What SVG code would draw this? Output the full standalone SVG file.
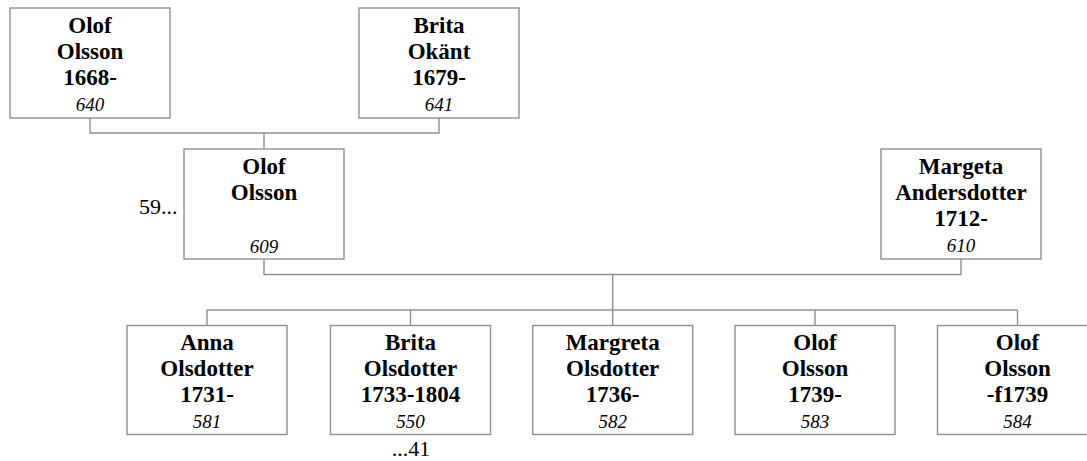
<svg xmlns="http://www.w3.org/2000/svg" width="1087" height="461" viewBox="0 0 1087 461">
<style>
.box{fill:#fff;stroke:#8f8f8f;stroke-width:1.4}
.ln{fill:none;stroke:#8f8f8f;stroke-width:1.4}
.b{font-weight:bold;font-size:23px;text-anchor:middle}
.i{font-style:italic;font-size:19px;text-anchor:middle}
.n{font-size:22px}
</style>
<rect width="1087" height="461" fill="#fff"/>
<g id="connectors">
<polyline class="ln" points="90,118 90,133 439,133 439,118"/>
<line class="ln" x1="264" y1="133" x2="264" y2="149"/>
<polyline class="ln" points="264,259 264,274.5 961,274.5 961,259"/>
<line class="ln" x1="612.7" y1="274.5" x2="612.7" y2="310"/>
<line class="ln" x1="207" y1="310" x2="1017.5" y2="310"/>
<line class="ln" x1="207" y1="310" x2="207" y2="325.5"/>
<line class="ln" x1="410.5" y1="310" x2="410.5" y2="325.5"/>
<line class="ln" x1="612.7" y1="310" x2="612.7" y2="325.5"/>
<line class="ln" x1="815" y1="310" x2="815" y2="325.5"/>
<line class="ln" x1="1017.5" y1="310" x2="1017.5" y2="325.5"/>
</g>
<g font-family="'Liberation Serif', Tinos, 'Times New Roman', serif" fill="#000">
<g id="n640">
<rect class="box" x="10" y="8" width="160" height="110"/>
<text class="b" x="90" y="32.7">Olof</text>
<text class="b" x="90" y="59">Olsson</text>
<text class="b" x="90" y="85">1668-</text>
<text class="i" x="90" y="111">640</text>
</g>
<g id="n641">
<rect class="box" x="359" y="8" width="160" height="110"/>
<text class="b" x="439" y="32.7">Brita</text>
<text class="b" x="439" y="59">Okänt</text>
<text class="b" x="439" y="85">1679-</text>
<text class="i" x="439" y="111">641</text>
</g>
<g id="n609">
<rect class="box" x="184" y="149" width="160" height="110"/>
<text class="b" x="264" y="173.5">Olof</text>
<text class="b" x="264" y="200">Olsson</text>
<text class="i" x="264" y="253">609</text>
<text class="n" x="177.5" y="214" text-anchor="end">59...</text>
</g>
<g id="n610">
<rect class="box" x="881" y="149" width="160" height="110"/>
<text class="b" x="961" y="173.5">Margeta</text>
<text class="b" x="961" y="200">Andersdotter</text>
<text class="b" x="961" y="226">1712-</text>
<text class="i" x="961" y="252">610</text>
</g>
<g id="n581">
<rect class="box" x="127" y="325.5" width="160" height="109"/>
<text class="b" x="207" y="349.5">Anna</text>
<text class="b" x="207" y="376">Olsdotter</text>
<text class="b" x="207" y="402">1731-</text>
<text class="i" x="207" y="428">581</text>
</g>
<g id="n550">
<rect class="box" x="330.5" y="325.5" width="160" height="109"/>
<text class="b" x="410.5" y="349.5">Brita</text>
<text class="b" x="410.5" y="376">Olsdotter</text>
<text class="b" x="410.5" y="402">1733-1804</text>
<text class="i" x="410.5" y="428">550</text>
<text class="n" x="411" y="456" text-anchor="middle">...41</text>
</g>
<g id="n582">
<rect class="box" x="532.7" y="325.5" width="160" height="109"/>
<text class="b" x="612.7" y="349.5">Margreta</text>
<text class="b" x="612.7" y="376">Olsdotter</text>
<text class="b" x="612.7" y="402">1736-</text>
<text class="i" x="612.7" y="428">582</text>
</g>
<g id="n583">
<rect class="box" x="735" y="325.5" width="160" height="109"/>
<text class="b" x="815" y="349.5">Olof</text>
<text class="b" x="815" y="376">Olsson</text>
<text class="b" x="815" y="402">1739-</text>
<text class="i" x="815" y="428">583</text>
</g>
<g id="n584">
<rect class="box" x="937.5" y="325.5" width="160" height="109"/>
<text class="b" x="1017.5" y="349.5">Olof</text>
<text class="b" x="1017.5" y="376">Olsson</text>
<text class="b" x="1017.5" y="402">-f1739</text>
<text class="i" x="1017.5" y="428">584</text>
</g>
</g>
</svg>
